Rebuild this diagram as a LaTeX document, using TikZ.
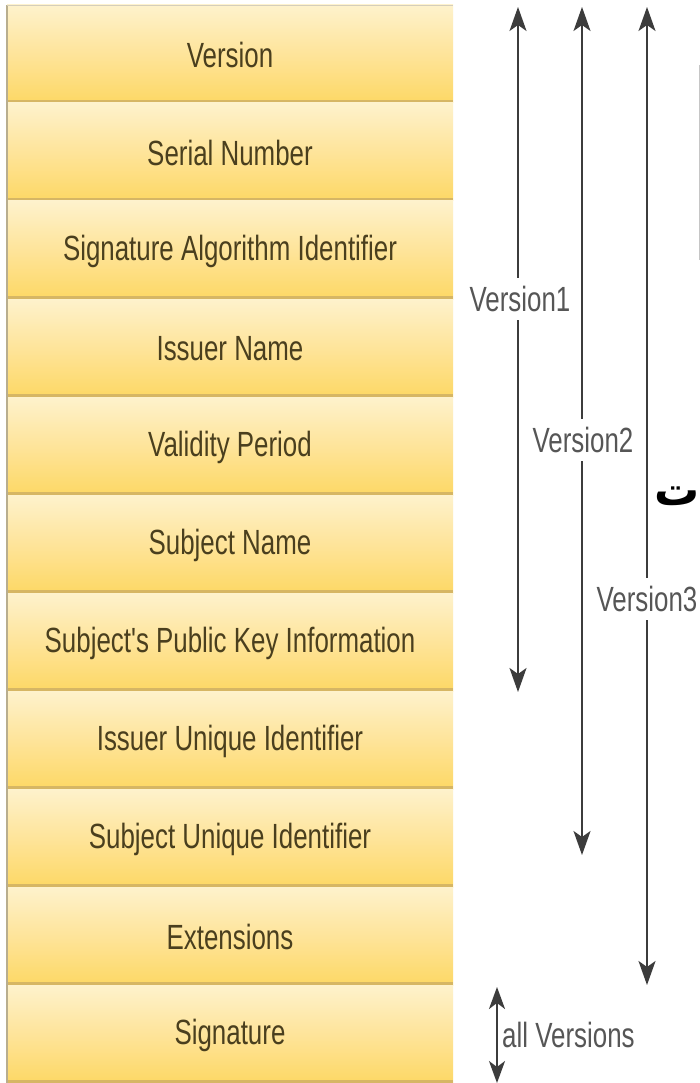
\documentclass[tikz,border=0pt]{standalone}
\usepackage{fontspec}
\usetikzlibrary{arrows.meta}
\TeXXeTstate=1
\newfontfamily\narrowfont{Liberation Sans}[FakeStretch=0.74]
\newfontfamily\arabicfont[Script=Arabic]{DejaVu Sans}
\definecolor{boxtop}{HTML}{FEF2CC}
\definecolor{boxmid}{HTML}{FEE49A}
\definecolor{boxbot}{HTML}{FDD865}
\definecolor{boxline}{HTML}{D6B664}
\definecolor{boxedge}{HTML}{B9AE8E}
\definecolor{boxtext}{HTML}{4A3F1E}
\definecolor{labtext}{HTML}{565656}
\definecolor{arrcol}{HTML}{3C3C3C}
\tikzset{
  fieldtext/.style={font=\narrowfont\fontsize{35}{40}\selectfont, text=boxtext, inner sep=0pt},
  verlabel/.style={font=\narrowfont\fontsize{35}{40}\selectfont, text=labtext, fill=white, inner xsep=2pt, inner ysep=8pt},
  arr/.style={draw=arrcol, line width=2pt, -{Stealth[length=24pt,width=17pt,inset=6pt]}},
}
\begin{document}
\begin{tikzpicture}[x=1pt,y=-1pt]
\useasboundingbox (0,0) rectangle (700,1083);
\fill[white] (0,0) rectangle (700,1083);
% boxes
\foreach \k/\t/\n in {0/Version/f0,1/Serial Number/f1,2/Signature Algorithm Identifier/f2,3/Issuer Name/f3,4/Validity Period/f4,5/Subject Name/f5,6/Subject's Public Key Information/f6,7/Issuer Unique Identifier/f7,8/Subject Unique Identifier/f8,9/Extensions/f9,10/Signature/f10}{
  \pgfmathsetmacro{\ytop}{5+98*\k}
  \pgfmathsetmacro{\ybot}{103+98*\k}
  \shade[top color=boxtop, bottom color=boxbot, middle color=boxmid] (7,\ytop) rectangle (453,\ybot);
  \fill[boxline] (7,\ybot-3) rectangle (453,\ybot);
  \node[fieldtext] (\n) at (230,{\ytop+50}) {\t};
}
\draw[boxedge, line width=1.5pt] (7,5) -- (7,1083);
\draw[boxedge!60, line width=0.8pt] (7,5) -- (453,5);
% arrows
\coordinate (v1top) at (518,7);
\coordinate (v1bot) at (518,692);
\coordinate (v2top) at (582,7);
\coordinate (v2bot) at (582,855);
\coordinate (v3top) at (647,7);
\coordinate (v3bot) at (647,985);
\coordinate (avtop) at (497,987);
\coordinate (avbot) at (497,1083);
\node[verlabel] (v1) at (520,299) {Version1};
\node[verlabel] (v2) at (583,440) {Version2};
\node[verlabel] (v3) at (647,599) {Version3};
\draw[arr] (v1.north -| v1top) -- (v1top);
\draw[arr] (v1.south -| v1top) -- (v1bot);
\draw[arr] (v2.north -| v2top) -- (v2top);
\draw[arr] (v2.south -| v2top) -- (v2bot);
\draw[arr] (v3.north -| v3top) -- (v3top);
\draw[arr] (v3.south -| v3top) -- (v3bot);
\draw[draw=arrcol, line width=2pt, {Stealth[length=22pt,width=16pt,inset=6pt]}-{Stealth[length=22pt,width=16pt,inset=6pt]}] (avtop) -- (avbot);
\node[font=\narrowfont\fontsize{35}{40}\selectfont, text=labtext, anchor=west, inner sep=0pt] (allv) at (502,1035) {all Versions};
% stray elements at right edge
\node[font=\arabicfont\bfseries\fontsize{45}{52}\selectfont, anchor=base east, inner sep=0pt] (ar) at (700,505) {\beginR ت\endR};
\coordinate (edgetop) at (699,65);
\coordinate (edgebot) at (699,260);
\draw[gray!45, line width=0.8pt] (edgetop) -- (edgebot);
\end{tikzpicture}
\end{document}
